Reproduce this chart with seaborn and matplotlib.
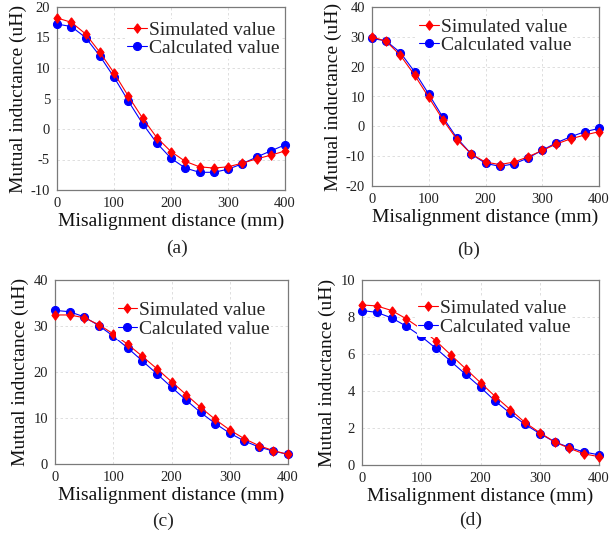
import numpy as np
import pandas as pd
import matplotlib
matplotlib.use("Agg")
import matplotlib.pyplot as plt
import seaborn as sns

distance = [0, 25, 50, 75, 100, 125, 150, 175, 200, 225, 250, 275, 300, 325, 350, 375, 400]

sim_a = [18.2, 17.5, 15.6, 12.6, 9.2, 5.4, 1.8, -1.4, -3.7, -5.3, -6.2, -6.4, -6.2, -5.6, -4.9, -4.3, -3.6]
calc_a = [17.2, 16.8, 15.0, 12.0, 8.5, 4.6, 0.9, -2.3, -4.8, -6.4, -7.1, -7.1, -6.6, -5.7, -4.6, -3.6, -2.6]

sim_b = [30.0, 28.5, 23.8, 17.2, 9.7, 2.2, -4.5, -9.3, -12.0, -12.8, -12.0, -10.2, -8.1, -5.9, -4.2, -2.9, -1.8]
calc_b = [29.5, 28.6, 24.7, 18.3, 10.8, 3.0, -4.0, -9.3, -12.4, -13.4, -12.6, -10.6, -8.0, -5.5, -3.5, -1.8, -0.7]

sim_c = [32.4, 32.4, 31.8, 30.3, 28.3, 26.0, 23.4, 20.7, 17.9, 15.1, 12.3, 9.7, 7.4, 5.5, 4.0, 2.9, 2.1]
calc_c = [33.4, 33.1, 32.0, 30.1, 27.8, 25.2, 22.4, 19.6, 16.7, 13.9, 11.2, 8.8, 6.7, 5.0, 3.7, 2.8, 2.1]

sim_d = [8.65, 8.6, 8.35, 7.9, 7.35, 6.7, 5.95, 5.2, 4.45, 3.7, 3.0, 2.3, 1.75, 1.25, 0.9, 0.6, 0.45]
calc_d = [8.35, 8.25, 7.95, 7.5, 6.95, 6.3, 5.6, 4.9, 4.2, 3.45, 2.8, 2.2, 1.7, 1.25, 0.95, 0.7, 0.55]

ylims = [(-10, 20), (-20, 40), (0, 40), (0, 10)]
ysteps = [5, 10, 10, 2]
captions = ["(a)", "(b)", "(c)", "(d)"]
sim_label = "Simulated value"
calc_label = "Calculated value"
xlabel = "Misalignment distance (mm)"
ylabel = "Mutual inductance (uH)"

sns.set_style("white")
plt.rcParams['font.family'] = ['Liberation Serif', 'DejaVu Serif']
plt.rcParams['axes.unicode_minus'] = False

W, H = 612, 546
fig = plt.figure(figsize=(W / 100, H / 100), dpi=100)

# pixel boxes: left, top, right, bottom
boxes = [(57, 7, 285, 190), (372, 7, 599, 186), (55, 280, 288, 464), (362, 280, 599, 465)]
cap_pos = [(177, 248), (469, 250), (163, 521), (471, 520)]
leg_anchor = [(0.30, 0.934), (0.20, 0.949), (0.26, 0.893), (0.23, 0.906)]

sims = [sim_a, sim_b, sim_c, sim_d]
calcs = [calc_a, calc_b, calc_c, calc_d]

diamond = [(0, 1), (0.75, 0), (0, -1), (-0.75, 0), (0, 1)]

for i in range(4):
    l, t, r, b = boxes[i]
    ax = fig.add_axes([l / W, 1 - b / H, (r - l) / W, (b - t) / H])
    df = pd.DataFrame({"x": distance, "sim": sims[i], "calc": calcs[i]})
    sns.lineplot(data=df, x="x", y="calc", ax=ax, color="#0000ff", marker="o",
                 markersize=5.8, markeredgecolor="#0000ff", linewidth=0.8,
                 label=calc_label, clip_on=False, zorder=3)
    sns.lineplot(data=df, x="x", y="sim", ax=ax, color="#ff0000", marker=diamond,
                 markersize=6.8, markeredgecolor="#ff0000", linewidth=0.8,
                 label=sim_label, clip_on=False, zorder=4)
    ax.set_xlim(0, 400)
    ax.set_ylim(*ylims[i])
    ax.set_xticks(np.arange(0, 401, 100))
    ax.set_yticks(np.arange(ylims[i][0], ylims[i][1] + 0.001, ysteps[i]))
    ax.grid(True, color="#d9d9d9", linestyle=(0, (3, 3)), linewidth=0.6)
    ax.set_axisbelow(True)
    for s in ax.spines.values():
        s.set_color("#7a7a7a")
        s.set_linewidth(0.9)
    ax.tick_params(length=0, labelsize=10.5, labelcolor="#222222", pad=5)
    ax.set_xlabel(xlabel, fontsize=14, labelpad=2, color="#111111")
    ax.set_ylabel(ylabel, fontsize=14, labelpad=3, color="#111111")
    handles, labels = ax.get_legend_handles_labels()
    order = [labels.index(sim_label), labels.index(calc_label)]
    leg = ax.legend([handles[k] for k in order], [labels[k] for k in order],
                    loc="upper left", bbox_to_anchor=leg_anchor[i], frameon=True,
                    fontsize=14, labelspacing=0.05, handlelength=1.0, handletextpad=0.1,
                    borderpad=0.1, borderaxespad=0)
    leg.get_frame().set_edgecolor("none")
    leg.get_frame().set_facecolor("white")
    leg.get_frame().set_alpha(1)
    leg.set_zorder(10)
    cx, cy = cap_pos[i]
    fig.text(cx / W, 1 - cy / H, captions[i], ha="center", va="center", fontsize=14)

fig.savefig("out.png", dpi=100)
